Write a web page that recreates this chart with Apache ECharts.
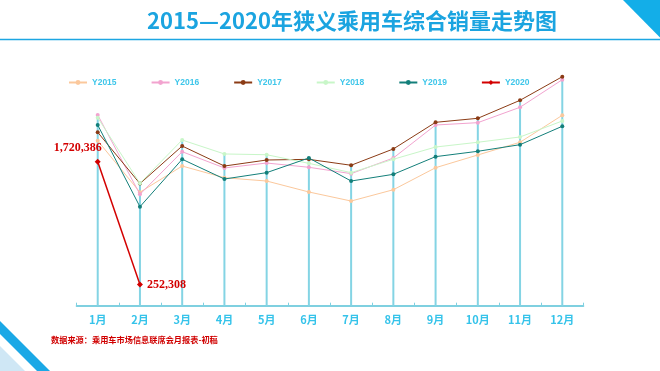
<!DOCTYPE html>
<html>
<head>
<meta charset="utf-8">
<script src="https://cdn.jsdelivr.net/npm/echarts@6/dist/echarts.min.js"></script>
<style>html,body{margin:0;padding:0;background:#fff;}#c{width:660px;height:371px;}</style>
</head>
<body>
<div id="c"></div>
<script>
var months = ['1月','2月','3月','4月','5月','6月','7月','8月','9月','10月','11月','12月'];
var seriesNames = ['Y2015','Y2016','Y2017','Y2018','Y2019','Y2020'];
var y2015 = [1970000,1355000,1668000,1528000,1489000,1358000,1250000,1385000,1648000,1800000,1952000,2274000];
var y2016 = [2278000,1330000,1839000,1645000,1704000,1653000,1577000,1764000,2158000,2186000,2370000,2699000];
var y2017 = [2071000,1458000,1907000,1668000,1740000,1748000,1677000,1872000,2190000,2238000,2453000,2735000];
var y2018 = [2245000,1462000,1979000,1812000,1803000,1700000,1589000,1749000,1895000,1952000,2015000,2206000];
var y2019 = [2158000,1182000,1749000,1513000,1589000,1764000,1489000,1569000,1780000,1844000,1923000,2143000];
var y2020 = [1720386,252308];

var colors = ['#fbc89c','#f2a3cf','#8b3b15','#c8f6c8','#137f7a','#d30000'];
var all = [y2015,y2016,y2017,y2018,y2019];
var dropTop = months.map(function(m,i){
  var vals = all.map(function(a){return a[i];});
  if (y2020[i] !== undefined) vals.push(y2020[i]);
  return Math.max.apply(null, vals);
});

function lineSeries(name, data, color, idx){
  return {
    name: name, type: 'line', data: data, z: 3 + idx,
    symbol: 'circle', symbolSize: 4, showSymbol: true,
    lineStyle: {color: color, width: 1},
    itemStyle: {color: color},
    emphasis: {disabled: true}
  };
}

var series = [{
  type: 'bar', data: dropTop, barWidth: 2, silent: true, z: 1,
  itemStyle: {color: '#84d4e4'}
}];
[y2015,y2016,y2017,y2018,y2019].forEach(function(d,i){
  series.push(lineSeries(seriesNames[i], d, colors[i], i));
});
var labelFont = {fontFamily: 'Liberation Serif', fontWeight: 'bold', fontSize: 12, color: '#d30000'};
series.push({
  name: 'Y2020', type: 'line', z: 10,
  symbol: 'diamond', symbolSize: 6,
  lineStyle: {color: colors[5], width: 1.5},
  itemStyle: {color: colors[5]},
  data: y2020.map(function(v,i){
    return {value: v, label: Object.assign({show: true,
      position: i === 0 ? 'top' : 'right',
      offset: i === 0 ? [-20, 0] : [0, 0],
      distance: i === 0 ? 5 : 4,
      formatter: function(p){ return p.value.toLocaleString('en-US'); }}, labelFont)};
  })
});

var chart = echarts.init(document.getElementById('c'));
chart.setOption({
  animation: false,
  backgroundColor: '#fff',
  title: [{
    text: '2015—2020年狭义乘用车综合销量走势图',
    left: 347, top: 5, textAlign: 'center',
    textStyle: {fontFamily: 'Noto Sans CJK SC', fontWeight: 'bold', fontSize: 22, color: '#1ba4e0'}
  },{
    text: '数据来源：乘用车市场信息联席会月报表-初稿',
    left: 46, top: 331,
    textStyle: {fontFamily: 'Noto Sans CJK SC', fontWeight: 'bold', fontSize: 8.2, color: '#d00000'}
  }],
  legend: {
    data: seriesNames, left: 63, top: 73, itemGap: 34, itemWidth: 18, itemHeight: 6,
    textStyle: {fontFamily: 'Liberation Sans', fontWeight: 'bold', fontSize: 8.5, color: '#3ec6ea'}
  },
  grid: {left: 76.6, right: 76.6, top: 54.5, bottom: 65.3},
  xAxis: {
    type: 'category', data: months, boundaryGap: true,
    axisLine: {lineStyle: {color: '#7fd0e0', width: 1.8}},
    axisTick: {show: true, inside: true, length: 3, lineStyle: {color: '#7fd0e0'}},
    axisLabel: {color: '#35c3ea', fontWeight: 'bold', fontSize: 11, fontFamily: 'Noto Sans CJK SC', margin: 9}
  },
  yAxis: {type: 'value', min: 0, max: 3000000, show: false, splitLine: {show: false}},
  graphic: [
    {type: 'polygon', shape: {points: [[623,0],[660,0],[660,37.5]]}, style: {fill: '#13aee8'}, silent: true},
    {type: 'rect', shape: {x: 0, y: 38.8, width: 660, height: 1.4}, style: {fill: '#1ca6e2'}, silent: true},
    {type: 'polygon', shape: {points: [[0,321],[0,334],[37,371],[50,371]]}, style: {fill: '#1ba8e6'}, silent: true},
    {type: 'polygon', shape: {points: [[0,346],[0,371],[25,371]]}, style: {fill: '#cfe7f5'}, silent: true}
  ],
  series: series
});
</script>
</body>
</html>
